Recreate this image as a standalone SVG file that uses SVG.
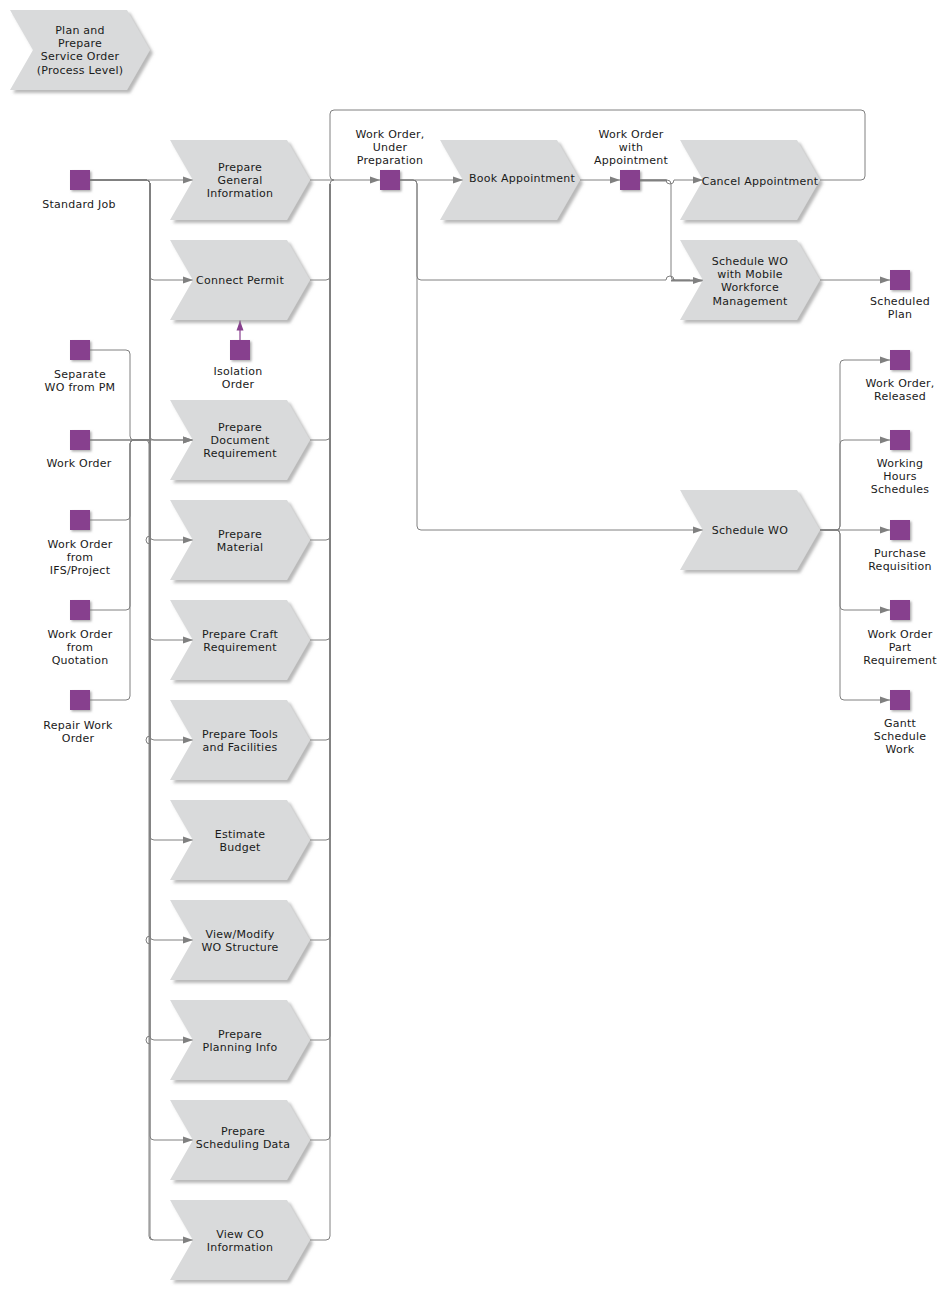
<svg xmlns="http://www.w3.org/2000/svg" xmlns:xlink="http://www.w3.org/1999/xlink" width="948" height="1290" viewBox="0 0 948 1290">
<style>
.fn{fill:#d9dadb;filter:url(#sh)}
.ev{fill:#873f8e;filter:url(#sh2)}
text{font-family:"DejaVu Sans","Liberation Sans",sans-serif;font-size:11px;letter-spacing:0.25px;fill:#1a1a1a;text-anchor:middle}
.c{fill:none;stroke:#808080;stroke-width:1}
.ca{fill:none;stroke:#808080;stroke-width:1;marker-end:url(#arr)}
.cp{fill:none;stroke:#873f8e;stroke-width:1.2;marker-end:url(#arrp)}
</style>
<defs>
<filter id="sh" x="-10%" y="-10%" width="130%" height="130%">
<feDropShadow dx="3" dy="3" stdDeviation="1.5" flood-color="#8a8a8a" flood-opacity="0.6"/>
</filter>
<filter id="sh2" x="-20%" y="-20%" width="150%" height="150%">
<feDropShadow dx="1.5" dy="1.5" stdDeviation="0.8" flood-color="#777" flood-opacity="0.6"/>
</filter>
<polygon id="chev" points="0,-40 117,-40 140,0 117,40 0,40 23,0"/>
<rect id="evt" x="-10" y="-10" width="20" height="20"/>
<marker id="arr" markerUnits="userSpaceOnUse" markerWidth="11" markerHeight="8" refX="10" refY="4" orient="auto">
<path d="M0,0.5 L10,4 L0,7.5 z" fill="#808080"/>
</marker>
<marker id="arrp" markerUnits="userSpaceOnUse" markerWidth="11" markerHeight="8" refX="10" refY="4" orient="auto">
<path d="M0,0.5 L10,4 L0,7.5 z" fill="#873f8e"/>
</marker>
</defs>
<rect width="948" height="1290" fill="#ffffff"/>

<g id="connectors">
<path class="ca" d="M90,180 H193"/>
<path class="ca" d="M90,180 H146 Q150,180 150,184 V276 Q150,280 154,280 H193"/>
<path class="ca" d="M90,180 H146 Q150,180 150,184 V436 Q150,440 154,440 H193"/>
<path class="ca" d="M90,180 H146 Q150,180 150,184 V536 Q150,540 154,540 H193"/>
<path class="ca" d="M90,180 H146 Q150,180 150,184 V636 Q150,640 154,640 H193"/>
<path class="ca" d="M90,180 H146 Q150,180 150,184 V736 Q150,740 154,740 H193"/>
<path class="ca" d="M90,180 H146 Q150,180 150,184 V836 Q150,840 154,840 H193"/>
<path class="ca" d="M90,180 H146 Q150,180 150,184 V936 Q150,940 154,940 H193"/>
<path class="ca" d="M90,180 H146 Q150,180 150,184 V1036 Q150,1040 154,1040 H193"/>
<path class="ca" d="M90,180 H146 Q150,180 150,184 V1136 Q150,1140 154,1140 H193"/>
<path class="ca" d="M90,180 H146 Q150,180 150,184 V1236 Q150,1240 154,1240 H193"/>
<path class="ca" d="M90,440 H193"/>
<path class="c" d="M90,440 H145 Q149,440 149,444 V1236 Q149,1240 153,1240"/>
<path class="c" d="M90,350 H126 Q130,350 130,354 V436 Q130,440 134,440 H150"/>
<path class="c" d="M90,520 H126 Q130,520 130,516 V444 Q130,440 134,440 H150"/>
<path class="c" d="M90,610 H126 Q130,610 130,606 V444 Q130,440 134,440 H150"/>
<path class="c" d="M90,700 H126 Q130,700 130,696 V444 Q130,440 134,440 H150"/>
<path class="c" d="M150,536 A4,4 0 0 0 150,544"/>
<path class="c" d="M150,736 A4,4 0 0 0 150,744"/>
<path class="c" d="M150,936 A4,4 0 0 0 150,944"/>
<path class="c" d="M150,1036 A4,4 0 0 0 150,1044"/>
<path class="cp" d="M240,340 V320.5"/>
<path class="ca" d="M310,180 H380"/>
<path class="c" d="M310,280 H326 Q330,280 330,276 V184 Q330,180 334,180"/>
<path class="c" d="M310,440 H326 Q330,440 330,436 V184"/>
<path class="c" d="M310,540 H326 Q330,540 330,536 V184"/>
<path class="c" d="M310,640 H326 Q330,640 330,636 V184"/>
<path class="c" d="M310,740 H326 Q330,740 330,736 V184"/>
<path class="c" d="M310,840 H326 Q330,840 330,836 V184"/>
<path class="c" d="M310,940 H326 Q330,940 330,936 V184"/>
<path class="c" d="M310,1040 H326 Q330,1040 330,1036 V184"/>
<path class="c" d="M310,1140 H326 Q330,1140 330,1136 V184"/>
<path class="c" d="M310,1240 H326 Q330,1240 330,1236 V184"/>
<path class="c" d="M820,180 H861 Q865,180 865,176 V114 Q865,110 861,110 H334 Q330,110 330,114 V176 Q330,180 334,180"/>
<path class="ca" d="M400,180 H463"/>
<path class="c" d="M400,180 H413 Q417,180 417,184 V276 Q417,280 421,280 H666 A4,4 0 0 1 674,280 H690"/>
<path class="ca" d="M400,180 H413 Q417,180 417,184 V526 Q417,530 421,530 H703"/>
<path class="ca" d="M580,180 H620"/>
<path class="c" d="M640,180.5 H667" style="stroke-width:2"/>
<path class="ca" d="M640,180 H666 A4,4 0 0 0 674,180 H703"/>
<path class="c" d="M640,180 H667 Q671,180 671,184 V276 Q671,280 675,280"/>
<path class="ca" d="M671,280.5 H703" style="stroke-width:2"/>
<path class="ca" d="M820,280 H890"/>
<path class="ca" d="M820,530 H836 Q840,530 840,526 V364 Q840,360 844,360 H890"/>
<path class="ca" d="M820,530 H836 Q840,530 840,526 V444 Q840,440 844,440 H890"/>
<path class="ca" d="M820,530 H890"/>
<path class="ca" d="M820,530 H836 Q840,530 840,534 V606 Q840,610 844,610 H890"/>
<path class="ca" d="M820,530 H836 Q840,530 840,534 V696 Q840,700 844,700 H890"/>
</g>

<g id="n-plan"><use href="#chev" x="10" y="50" class="fn"/><text x="80" y="34">Plan and</text><text x="80" y="47">Prepare</text><text x="80" y="60">Service Order</text><text x="80" y="74">(Process Level)</text></g>

<g id="n-pgi"><use href="#chev" x="170" y="180" class="fn"/><text x="240" y="171">Prepare</text><text x="240" y="184">General</text><text x="240" y="197">Information</text></g>
<g id="n-cp"><use href="#chev" x="170" y="280" class="fn"/><text x="240" y="284">Connect Permit</text></g>
<g id="n-pdr"><use href="#chev" x="170" y="440" class="fn"/><text x="240" y="431">Prepare</text><text x="240" y="444">Document</text><text x="240" y="457">Requirement</text></g>
<g id="n-pm"><use href="#chev" x="170" y="540" class="fn"/><text x="240" y="538">Prepare</text><text x="240" y="551">Material</text></g>
<g id="n-pcr"><use href="#chev" x="170" y="640" class="fn"/><text x="240" y="638">Prepare Craft</text><text x="240" y="651">Requirement</text></g>
<g id="n-ptf"><use href="#chev" x="170" y="740" class="fn"/><text x="240" y="738">Prepare Tools</text><text x="240" y="751">and Facilities</text></g>
<g id="n-eb"><use href="#chev" x="170" y="840" class="fn"/><text x="240" y="838">Estimate</text><text x="240" y="851">Budget</text></g>
<g id="n-vm"><use href="#chev" x="170" y="940" class="fn"/><text x="240" y="938">View/Modify</text><text x="240" y="951">WO Structure</text></g>
<g id="n-ppi"><use href="#chev" x="170" y="1040" class="fn"/><text x="240" y="1038">Prepare</text><text x="240" y="1051">Planning Info</text></g>
<g id="n-psd"><use href="#chev" x="170" y="1140" class="fn"/><text x="243" y="1135">Prepare</text><text x="243" y="1148">Scheduling Data</text></g>
<g id="n-vco"><use href="#chev" x="170" y="1240" class="fn"/><text x="240" y="1238">View CO</text><text x="240" y="1251">Information</text></g>

<g id="n-ba"><use href="#chev" x="440" y="180" class="fn"/><text x="522" y="182">Book Appointment</text></g>
<g id="n-ca"><use href="#chev" x="680" y="180" class="fn"/><text x="760" y="185">Cancel Appointment</text></g>
<g id="n-swm"><use href="#chev" x="680" y="280" class="fn"/><text x="750" y="265">Schedule WO</text><text x="750" y="278">with Mobile</text><text x="750" y="291">Workforce</text><text x="750" y="305">Management</text></g>
<g id="n-sw"><use href="#chev" x="680" y="530" class="fn"/><text x="750" y="534">Schedule WO</text></g>

<g id="e-sj"><use href="#evt" x="80" y="180" class="ev"/><text x="79" y="208">Standard Job</text></g>
<g id="e-sep"><use href="#evt" x="80" y="350" class="ev"/><text x="80" y="378">Separate</text><text x="80" y="391">WO from PM</text></g>
<g id="e-wo"><use href="#evt" x="80" y="440" class="ev"/><text x="79" y="467">Work Order</text></g>
<g id="e-ifs"><use href="#evt" x="80" y="520" class="ev"/><text x="80" y="548">Work Order</text><text x="80" y="561">from</text><text x="80" y="574">IFS/Project</text></g>
<g id="e-quo"><use href="#evt" x="80" y="610" class="ev"/><text x="80" y="638">Work Order</text><text x="80" y="651">from</text><text x="80" y="664">Quotation</text></g>
<g id="e-rep"><use href="#evt" x="80" y="700" class="ev"/><text x="78" y="729">Repair Work</text><text x="78" y="742">Order</text></g>
<g id="e-iso"><use href="#evt" x="240" y="350" class="ev"/><text x="238" y="375">Isolation</text><text x="238" y="388">Order</text></g>
<g id="e-wup"><use href="#evt" x="390" y="180" class="ev"/><text x="390" y="138">Work Order,</text><text x="390" y="151">Under</text><text x="390" y="164">Preparation</text></g>
<g id="e-wwa"><use href="#evt" x="630" y="180" class="ev"/><text x="631" y="138">Work Order</text><text x="631" y="151">with</text><text x="631" y="164">Appointment</text></g>
<g id="e-sp"><use href="#evt" x="900" y="280" class="ev"/><text x="900" y="305">Scheduled</text><text x="900" y="318">Plan</text></g>
<g id="e-wor"><use href="#evt" x="900" y="360" class="ev"/><text x="900" y="387">Work Order,</text><text x="900" y="400">Released</text></g>
<g id="e-whs"><use href="#evt" x="900" y="440" class="ev"/><text x="900" y="467">Working</text><text x="900" y="480">Hours</text><text x="900" y="493">Schedules</text></g>
<g id="e-pr"><use href="#evt" x="900" y="530" class="ev"/><text x="900" y="557">Purchase</text><text x="900" y="570">Requisition</text></g>
<g id="e-wopr"><use href="#evt" x="900" y="610" class="ev"/><text x="900" y="638">Work Order</text><text x="900" y="651">Part</text><text x="900" y="664">Requirement</text></g>
<g id="e-gsw"><use href="#evt" x="900" y="700" class="ev"/><text x="900" y="727">Gantt</text><text x="900" y="740">Schedule</text><text x="900" y="753">Work</text></g>
</svg>
